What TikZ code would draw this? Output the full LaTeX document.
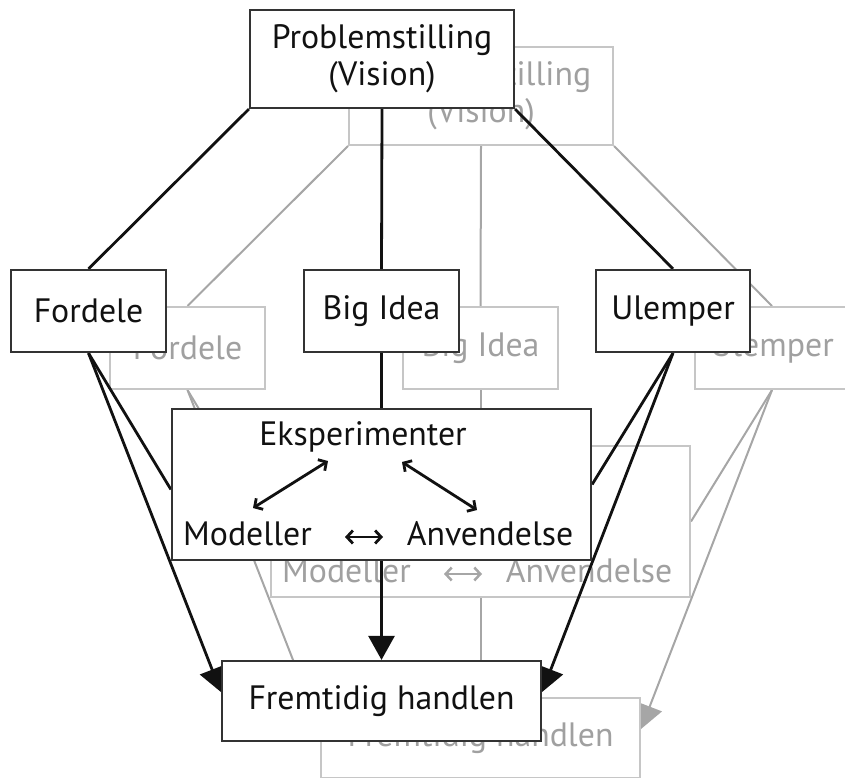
\documentclass[tikz,border=0pt]{standalone}
\usepackage{fontspec}
\setmainfont{PT Sans}
\usetikzlibrary{arrows.meta}

\pgfdeclarelayer{greylinks}
\pgfdeclarelayer{greyboxes}
\pgfdeclarelayer{blacklinks}
\pgfsetlayers{greylinks,greyboxes,blacklinks,main}

\definecolor{shadowline}{HTML}{A6A6A6}
\definecolor{shadowbox}{HTML}{C6C6C6}
\definecolor{shadowtext}{HTML}{A0A0A0}
\definecolor{ink}{HTML}{111111}
\definecolor{frame}{HTML}{333333}

\newcommand\flowfont{\fontsize{33.8}{37}\selectfont}

% One complete copy of the chart; #1 = name prefix,
% #2 = layer for the connectors, #3 = layer for the boxes
\newcommand\flowchart[3]{%
  \begin{pgfonlayer}{#3}
    \node[box, minimum width=264pt, minimum height=98pt] (#1prob) at (382,59) {Problemstilling\\(Vision)};
    \node[box, minimum width=155pt, minimum height=82pt] (#1ford) at (88.5,311) {Fordele};
    \node[box, minimum width=155pt, minimum height=82pt] (#1big) at (381.5,311) {Big Idea};
    \node[box, minimum width=154pt, minimum height=82pt] (#1ulem) at (673,311) {Ulemper};
    \node[box, minimum width=419pt, minimum height=151pt] (#1eksp) at (381.5,484.5) {};
    \node[box, minimum width=319pt, minimum height=80pt] (#1frem) at (381.5,701) {Fremtidig handlen};
    % contents of the experiment box
    \node[txt] (#1eks) at (363,445) {Eksperimenter};
    \node[txt] (#1mod) at (247.5,545) {Modeller};
    \node[txt] (#1anv) at (490,545) {Anvendelse};
    \coordinate (#1ma) at (253,508);
    \coordinate (#1mb) at (328,461);
    \coordinate (#1aa) at (402,462);
    \coordinate (#1ab) at (477,510);
    \coordinate (#1ha) at (345,537);
    \coordinate (#1hb) at (383,537);
    \draw[pair] (#1ma) -- (#1mb);
    \draw[pair] (#1aa) -- (#1ab);
    \draw[pair] (#1ha) -- (#1hb);
  \end{pgfonlayer}
  \begin{pgfonlayer}{#2}
    \draw[link] (#1prob.south west) -- (#1ford.north);
    \draw[link] (#1prob.south) -- (#1big.north);
    \draw[link] (#1prob.south east) -- (#1ulem.north);
    \draw[link] (#1big.south) -- (#1eksp.north);
    \draw[link] (#1ford.south) -- ([yshift=-5pt]#1eksp.west);
    \draw[link] (#1ulem.south) -- (#1eksp.east);
    \draw[flow] (#1ford.south) -- ([yshift=9pt]#1frem.west);
    \draw[flow] (#1ulem.south) -- ([yshift=9pt]#1frem.east);
    \draw[flow] (#1eksp.south) -- (#1frem.north);
  \end{pgfonlayer}}

\begin{document}
\begin{tikzpicture}[x=1pt,y=-1pt]
  \useasboundingbox (0,0) rectangle (845,778);
  % pale copy behind
  \begin{scope}[shift={(99,37)},
      box/.style={rectangle, draw=shadowbox, line width=2pt, fill=white,
        text=shadowtext, inner sep=0pt, align=center, font=\flowfont},
      txt/.style={inner sep=0pt, anchor=base, text=shadowtext, font=\flowfont},
      link/.style={draw=shadowline, line width=2pt},
      flow/.style={link, -{Triangle[length=24pt,width=26pt]}},
      pair/.style={draw=shadowline, line width=2.5pt,
        {Straight Barb[length=6pt,width=13pt]}-{Straight Barb[length=6pt,width=13pt]}}]
    \flowchart{s}{greylinks}{greyboxes}
  \end{scope}
  % main copy in front
  \begin{scope}[
      box/.style={rectangle, draw=frame, line width=2.2pt, fill=white,
        text=ink, inner sep=0pt, align=center, font=\flowfont},
      txt/.style={inner sep=0pt, anchor=base, text=ink, font=\flowfont},
      link/.style={draw=ink, line width=2.8pt},
      flow/.style={link, -{Triangle[length=24pt,width=26pt]}},
      pair/.style={draw=ink, line width=2.8pt,
        {Straight Barb[length=6pt,width=13pt]}-{Straight Barb[length=6pt,width=13pt]}}]
    \flowchart{b}{blacklinks}{main}
  \end{scope}
\end{tikzpicture}
\end{document}
